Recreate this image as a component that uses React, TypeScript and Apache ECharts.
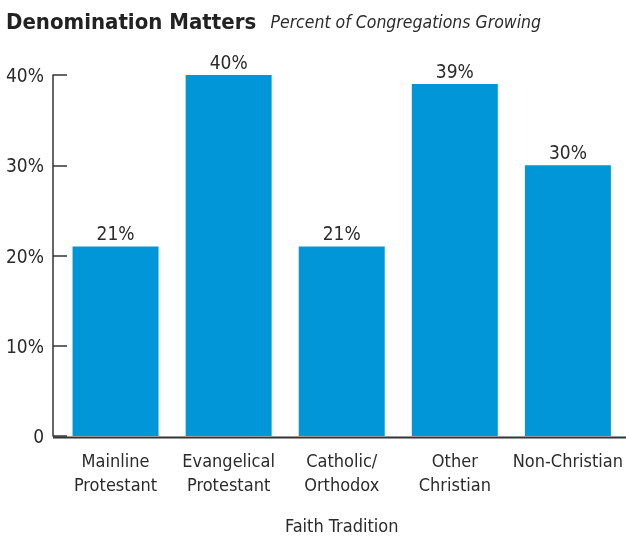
import React, { useEffect, useRef } from "react";
import * as echarts from "echarts";

const categories = [
  "Mainline\nProtestant",
  "Evangelical\nProtestant",
  "Catholic/\nOrthodox",
  "Other\nChristian",
  "Non-Christian",
];
const values = [21, 40, 21, 39, 30];
const yTicks = [0, 10, 20, 30, 40];

const FONT = "'DejaVu Sans Condensed', 'Liberation Sans Narrow', sans-serif";
const TEXT = "#2b2b2b";
const AXIS = "#333333";
const BAR = "#0096D8";

export default function App() {
  const ref = useRef<HTMLDivElement>(null);
  useEffect(() => {
    if (!ref.current) return;
    const chart = echarts.init(ref.current, null, { renderer: "svg" });
    chart.setOption({
      animation: false,
      textStyle: { fontFamily: FONT, color: TEXT },
      title: {
        left: 6,
        top: 10,
        padding: 0,
        text: "{a|Denomination Matters}  {b|Percent of Congregations Growing}",
        textStyle: {
          rich: {
            a: { fontFamily: FONT, fontSize: 22, fontWeight: "bold", color: "#222", verticalAlign: "bottom" },
            b: { fontFamily: FONT, fontSize: 17.5, fontWeight: "normal", fontStyle: "italic", color: TEXT, verticalAlign: "bottom", padding: [0, 0, 1, 3] },
          },
        },
      },
      grid: { left: 59, right: 1, top: 75, bottom: 101, containLabel: false },
      xAxis: {
        type: "category",
        data: categories,
        axisLine: { show: false },
        axisTick: { show: false },
        axisLabel: { fontFamily: FONT, fontSize: 18, color: TEXT, margin: 12, lineHeight: 24, interval: 0 },
        name: "Faith Tradition",
        nameLocation: "middle",
        nameGap: 80,
        nameTextStyle: { fontFamily: FONT, fontSize: 18, color: TEXT },
      },
      yAxis: {
        type: "value",
        min: yTicks[0],
        max: yTicks[yTicks.length - 1],
        interval: 10,
        offset: 6,
        axisLine: { show: true, lineStyle: { color: AXIS, width: 1.5 } },
        axisTick: { show: true, inside: true, length: 14, lineStyle: { color: AXIS, width: 1.5 } },
        splitLine: { show: false },
        axisLabel: {
          fontFamily: FONT,
          fontSize: 19,
          color: TEXT,
          margin: 9,
          formatter: (v: number) => (v === 0 ? "0" : v + "%"),
        },
      },
      graphic: [
        {
          type: "line",
          shape: { x1: 53, y1: 437.5, x2: 626, y2: 437.5 },
          style: { stroke: AXIS, lineWidth: 2 },
          z: 10,
        },
      ],
      series: [
        {
          type: "bar",
          data: values,
          barWidth: 86,
          itemStyle: { color: BAR },
          label: {
            show: true,
            position: "top",
            distance: 4,
            fontFamily: FONT,
            fontSize: 19,
            color: TEXT,
            formatter: (p: any) => p.value + "%",
          },
        },
      ],
    });
    return () => chart.dispose();
  }, []);
  return <div ref={ref} style={{ position: "fixed", left: 0, top: 0, width: 626, height: 539 }} />;
}
